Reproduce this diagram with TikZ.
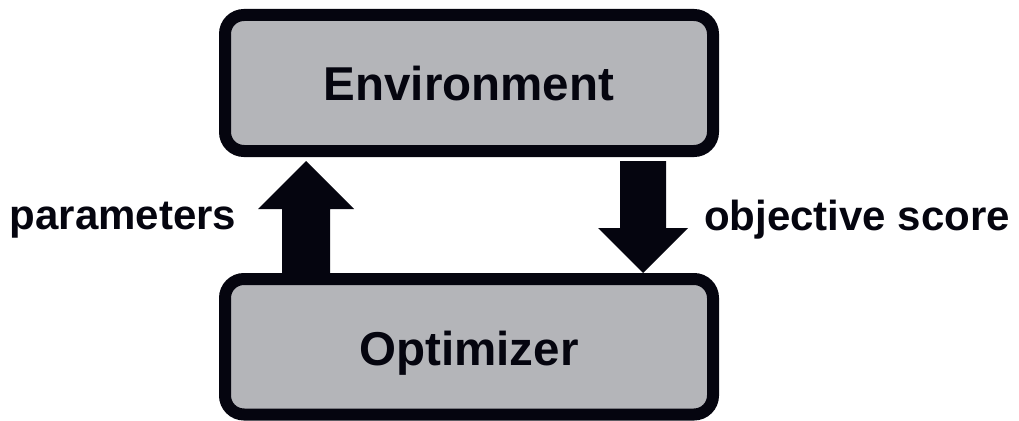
\documentclass[tikz,border=0pt]{standalone}
\usepackage{fontspec}
\setmainfont{Liberation Sans}
\usetikzlibrary{calc}
\definecolor{ink}{HTML}{05050F}
\definecolor{panel}{HTML}{B4B5B9}
\tikzset{
  block/.style={draw=ink, fill=panel, line width=12pt, rounded corners=19pt,
    minimum width=488pt, inner sep=0pt},
  blocktext/.style={text=ink, anchor=base, inner sep=0pt,
    font=\bfseries\fontsize{47.5}{48}\selectfont},
  sidetext/.style={text=ink, anchor=base west, inner sep=0pt,
    font=\bfseries\fontsize{42}{42}\selectfont},
  flow/.style={fill=ink, draw=none}
}
\begin{document}
\begin{tikzpicture}[x=1pt, y=-1pt]
  \useasboundingbox (0,0) rectangle (1019,420);

  % the two blocks
  \node[block, minimum height=136pt] (env) at (469,83) {};
  \node[block, minimum height=135.5pt] (opt) at (469,346.75) {};
  \node[blocktext] (envlabel) at (469,100.7) {Environment};
  \node[blocktext] (optlabel) at (469,365) {Optimizer};

  % block arrow: optimizer -> environment
  \coordinate (parTip) at (306,161);
  \coordinate (parFoot) at (parTip |- opt.north);
  \fill[flow] ($(parFoot)+(-24,0)$) -- ++(0,-64) -- ++(-24,0) -- (parTip)
    -- ++(48,48) -- ++(-24,0) -- ++(0,64) -- cycle;

  % block arrow: environment -> optimizer
  \coordinate (objTop) at (643,161);
  \coordinate (objTip) at (objTop |- opt.north);
  \fill[flow] ($(objTop)+(-23,0)$) -- ++(0,67) -- ++(-22,0) -- (objTip)
    -- ++(45,-45) -- ++(-22,0) -- ++(0,-67) -- cycle;

  % arrow captions
  \node[sidetext] (par) at (9.5,229) {parameters};
  \node[sidetext] (obj) at (704,230) {objective score};
\end{tikzpicture}
\end{document}
